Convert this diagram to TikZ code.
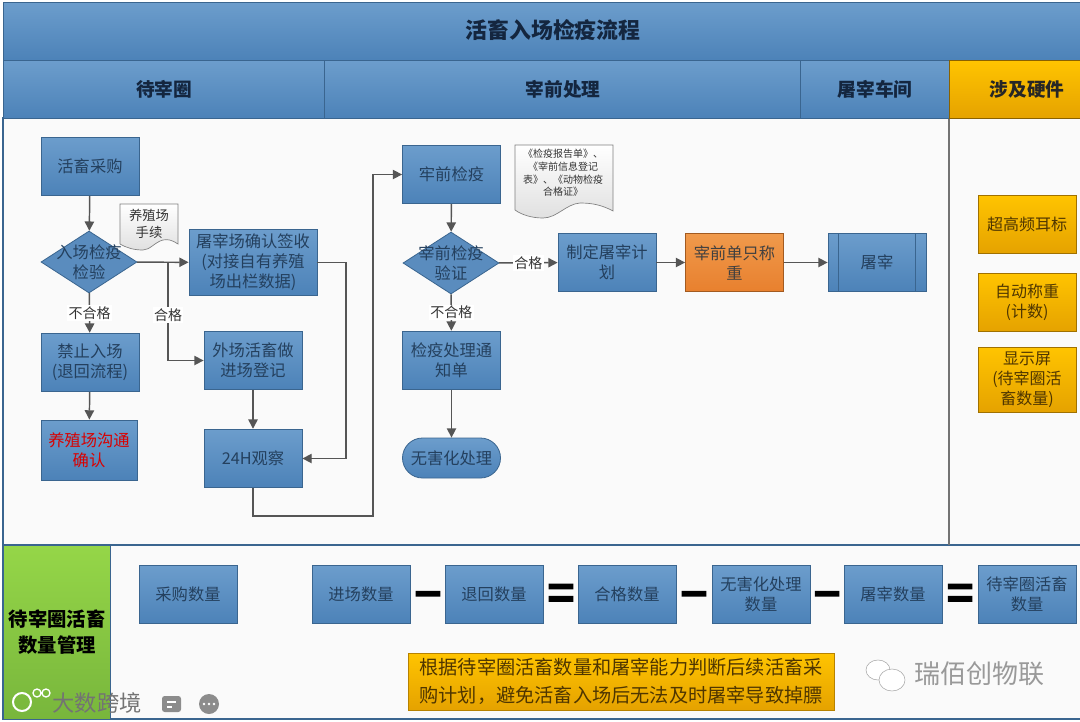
\documentclass[tikz,border=0pt]{standalone}
\usepackage{fontspec}
\setmainfont{Noto Sans CJK SC}
\newfontfamily\signfont[FakeBold=4]{Noto Sans CJK SC}
\usetikzlibrary{shapes.geometric,arrows.meta}

\definecolor{boxtop}{HTML}{6C9DCC}
\definecolor{boxbot}{HTML}{4C82B8}
\definecolor{boxline}{HTML}{3A658F}
\definecolor{ink}{HTML}{24405E}
\definecolor{headink}{HTML}{14263F}
\definecolor{flowline}{HTML}{555555}
\definecolor{goldtop}{HTML}{FFC400}
\definecolor{goldbot}{HTML}{E5A200}
\definecolor{goldink}{HTML}{4F3600}
\definecolor{fieldtop}{HTML}{95D648}
\definecolor{fieldbot}{HTML}{78B63C}
\definecolor{weightop}{HTML}{F09A4C}
\definecolor{weighbot}{HTML}{E8802E}

\tikzset{
    stepbox/.style={draw=boxline, line width=0.6pt, top color=boxtop, bottom color=boxbot,
        text=ink, font=\fontsize{12.2}{15}\selectfont, align=center, inner sep=1pt,
        minimum width=73.5pt, minimum height=44pt},
    checktext/.style={text=ink, font=\fontsize{12.2}{15}\selectfont, align=center, inner sep=0pt},
    checkbox/.style={diamond, draw=boxline, line width=0.6pt, fill=boxbot!92!white, aspect=1.55,
        inner sep=0pt, minimum width=72pt, minimum height=46.5pt},
    hwbox/.style={draw=goldbot!70!black, line width=0.6pt, top color=goldtop, bottom color=goldbot,
        text=goldink, font=\fontsize{12}{15}\selectfont, align=center, inner sep=1pt,
        minimum width=73.5pt, minimum height=44pt},
    headbar/.style={draw=boxline, line width=1pt, top color=boxtop, bottom color=boxbot,
        inner sep=0pt, minimum height=43.5pt, anchor=north west},
    headtext/.style={text=headink, font=\fontsize{14}{17}\selectfont\bfseries},
    flow/.style={draw=flowline, line width=1.1pt, -{Triangle[length=7pt,width=7pt]}},
    flowlabel/.style={fill=white, text=black!80, font=\fontsize{10.5}{12}\selectfont, inner sep=1pt},
    docsheet/.style={draw=black!50, line width=0.5pt, top color=white, bottom color=black!12},
    docnote/.style={text=black!80, align=center, inner sep=0pt},
    mathsign/.style={text=black, font=\fontsize{24}{24}\selectfont\signfont, inner sep=0pt, yscale=1.7, transform shape},
    markfont/.style={text=black!40, inner sep=0pt}
}

\begin{document}
\begin{tikzpicture}[x=0.75pt, y=-0.75pt]
    \useasboundingbox (0,0) rectangle (1080,721);
    \fill[white] (0,0) rectangle (1080,721);

    % Panels
    \fill[black!2] (3,118) rectangle (1080,719);
    \draw[boxline, line width=1pt] (1084,118) -- (3,118) -- (3,719) -- (1084,719);
    \draw[boxline, line width=1pt] (3,545) -- (1084,545);
    \draw[black!55, line width=1pt] (949,118) -- (949,545);

    % Headers
    \node[headbar, minimum width=810pt] (title) at (3,2) {};
    \node[headtext, font=\fontsize{16.4}{19}\selectfont\bfseries] (titletext) at (553,30) {活畜入场检疫流程};
    \node[headbar, minimum width=240.75pt] (pen) at (3,60) {};
    \node[headtext] (pentext) at (164,89) {待宰圈};
    \node[headbar, minimum width=357pt] (pre) at (324,60) {};
    \node[headtext] (pretext) at (563,89) {宰前处理};
    \node[headbar, minimum width=111.75pt] (shop) at (800,60) {};
    \node[headtext] (shoptext) at (875,89) {屠宰车间};
    \node[headbar, draw=goldbot!60!black, top color=goldtop, bottom color=goldbot, minimum width=101pt] (hw) at (949,60) {};
    \node[headtext, text=black!85] (hwtext) at (1027,89) {涉及硬件};
    \node[headbar, top color=fieldtop, bottom color=fieldbot, minimum width=80.25pt, minimum height=130.5pt] (count) at (3,545) {};
    \node[headtext, text=black, font=\fontsize{14.5}{19}\selectfont\bfseries, align=center] (counttext) at (57,632) {待宰圈活畜\\数量管理};

    % Steps, left part
    \node[stepbox] (buy) at (90,166.5) {活畜采购};
    \node[checkbox, label={[checktext]center:{入场检疫\\检验}}] (entry) at (89,262) {};
    \node[stepbox, minimum width=96pt, minimum height=50pt] (sign) at (253,262.5) {屠宰场确认签收\\(对接自有养殖\\场出栏数据)};
    \node[stepbox] (stop) at (90,362.5) {禁止入场\\(退回流程)};
    \node[stepbox, minimum width=72pt, minimum height=45pt, text=red!85!black] (talk) at (89,450) {养殖场沟通\\确认};
    \node[stepbox] (outer) at (253,360.5) {外场活畜做\\进场登记};
    \node[stepbox] (watch) at (253,458.5) {24H观察};

    % Steps, middle part
    \node[stepbox] (precheck) at (451.5,174.5) {牢前检疫};
    \node[checkbox, label={[checktext]center:{宰前检疫\\验证}}] (verify) at (451,263) {};
    \node[stepbox] (plan) at (607,262.5) {制定屠宰计\\划};
    \node[stepbox, draw=weighbot!70!black, top color=weightop, bottom color=weighbot, text=black!75] (weigh) at (734.5,262.5) {宰前单只称\\重};
    \node[stepbox] (slaughter) at (877,262.5) {屠宰};
    \draw[boxline, line width=0.6pt] (838,233) -- (838,292) (915,233) -- (915,292);
    \node[stepbox] (notice) at (451.5,360.5) {检疫处理通\\知单};
    \node[stepbox, rounded corners=15pt, minimum height=30pt] (safe) at (451.5,458) {无害化处理};

    % Notes
    \draw[docsheet] (120,204) -- (178,204) -- (178,244) .. controls (172,240) and (168,239) .. (163,240) .. controls (155,242) and (150,250) .. (143,250) .. controls (134,250) and (127,248) .. (120,244) -- cycle;
    \node[docnote, font=\fontsize{10}{13}\selectfont] (farmdoc) at (149,224) {养殖场\\手续};
    \draw[docsheet] (515,145) -- (613,145) -- (613,211) .. controls (602,205) and (592,203) .. (580,203) .. controls (566,204) and (557,218) .. (543,218) .. controls (532,218) and (522,215) .. (515,210) -- cycle;
    \node[docnote, font=\fontsize{7.5}{9.5}\selectfont] (reportdoc) at (563,173) {《检疫报告单》、\\《宰前信息登记\\表》、《动物检疫\\合格证》};

    % Connectors
    \coordinate (fork) at (168,262);
    \coordinate (signout) at (346,262.5);
    \coordinate (signdown) at (346,458.5);
    \coordinate (watchlow) at (253,516);
    \coordinate (riser) at (373,516);
    \coordinate (risertop) at (373,174.5);
    \draw[flow] (buy) -- (entry);
    \draw[flow] (entry) -- (sign);
    \draw[flow] (fork) |- node[flowlabel, pos=0.27] (passa) {合格} (outer);
    \draw[flow] (entry) -- node[flowlabel] (faila) {不合格} (stop);
    \draw[flow] (stop) -- (talk);
    \draw[flow] (outer) -- (watch);
    \draw[flow] (sign) -- (signout) -- (signdown) -- (watch);
    \draw[flow] (watch) -- (watchlow) -- (riser) -- (risertop) -- (precheck);
    \draw[flow] (precheck) -- (verify);
    \draw[flow] (verify) -- node[flowlabel] (passb) {合格} (plan);
    \draw[flow] (plan) -- (weigh);
    \draw[flow] (weigh) -- (slaughter);
    \draw[flow] (verify) -- node[flowlabel] (failb) {不合格} (notice);
    \draw[flow] (notice) -- (safe);

    % Hardware
    \node[hwbox] (tag) at (1027,224.5) {超高频耳标};
    \node[hwbox] (scale) at (1027,302.5) {自动称重\\(计数)};
    \node[hwbox, minimum height=49pt] (screen) at (1027,380) {显示屏\\(待宰圈活\\畜数量)};

    % Counts
    \node[stepbox] (c1) at (188,594.5) {采购数量};
    \node[stepbox] (c2) at (361,594.5) {进场数量};
    \node[stepbox] (c3) at (494,594.5) {退回数量};
    \node[stepbox] (c4) at (627,594.5) {合格数量};
    \node[stepbox] (c5) at (761,594.5) {无害化处理\\数量};
    \node[stepbox] (c6) at (893,594.5) {屠宰数量};
    \node[stepbox] (c7) at (1027,594.5) {待宰圈活畜\\数量};
    \node[mathsign] (s1) at (428,603) {－};
    \node[mathsign] (s2) at (561,599) {＝};
    \node[mathsign] (s3) at (694,603) {－};
    \node[mathsign] (s4) at (827,603) {－};
    \node[mathsign] (s5) at (960,599) {＝};

    % Note and marks
    \node[draw=goldbot!80!black, top color=goldtop, bottom color=goldbot, minimum width=319.5pt, minimum height=42.75pt, inner sep=0pt,
        text=goldink, font=\fontsize{14.4}{21}\selectfont, align=left] (plannote) at (621,681.5)
        {根据待宰圈活畜数量和屠宰能力判断后续活畜采\\购计划，避免活畜入场后无法及时屠宰导致掉膘};
    \fill[white, draw=black!35] (878,670) ellipse (12 and 10);
    \fill[white, draw=black!35] (892,680) ellipse (13 and 11);
    \node[markfont, font=\fontsize{19.5}{22}\selectfont] (mark) at (979,674) {瑞佰创物联};
    \fill[black!45, rounded corners=2pt] (162,696) rectangle (181,712);
    \draw[white, line width=1pt] (167,702) -- (176,702) (167,707) -- (172,707);
    \fill[black!45] (209,704) circle (10);
    \fill[white] (204,704) circle (1.3) (209,704) circle (1.3) (214,704) circle (1.3);
    \draw[white, line width=1.5pt] (22,702) circle (9);
    \draw[white, line width=1pt] (37,693) circle (4) (46,693) circle (4);
    \node[markfont, text=black!55, font=\fontsize{16.7}{19}\selectfont] (corner) at (97,703) {大数跨境};
\end{tikzpicture}
\end{document}
